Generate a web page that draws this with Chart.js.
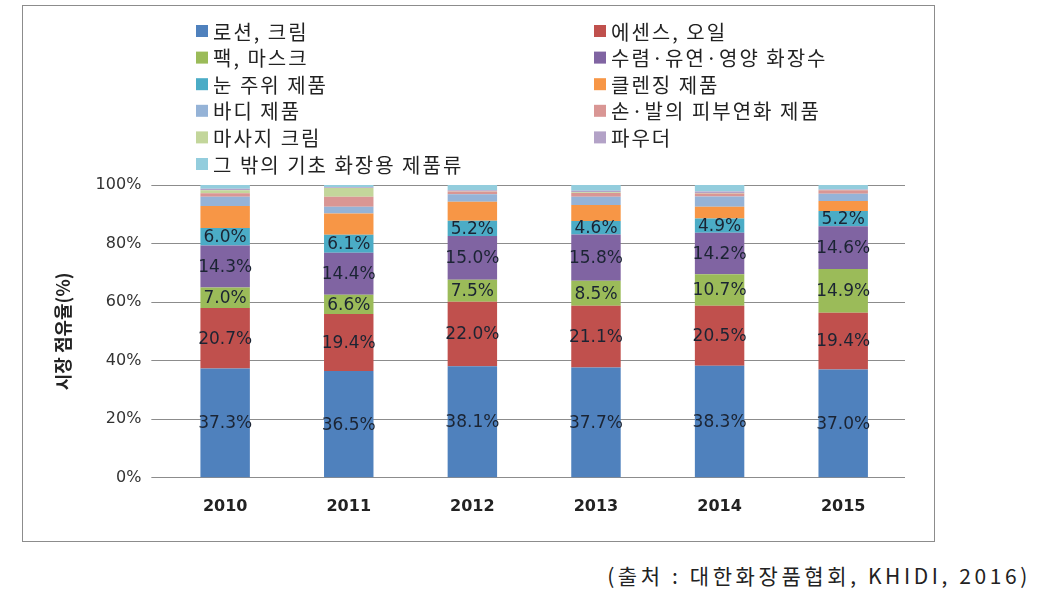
<!DOCTYPE html>
<html>
<head>
<meta charset="utf-8">
<script src="https://cdn.jsdelivr.net/npm/chart.js@4/dist/chart.umd.min.js"></script>
<style>
  html, body { margin: 0; padding: 0; background: #fff; }
  body { width: 1041px; height: 604px; position: relative; overflow: hidden; }
  #frame { position: absolute; left: 22px; top: 5px; width: 911px; height: 535px; border: 1px solid #8c8c8c; }
  #source { position: absolute; right: 10px; top: 560px; font: 21px "Noto Sans CJK KR", sans-serif; color: #222; letter-spacing: 3.6px; }
</style>
</head>
<body>
<div id="frame"><canvas id="myChart" width="911" height="535"></canvas></div>
<div id="source">(출처 : 대한화장품협회, KHIDI, 2016)</div>
<script>
const years = ['2010', '2011', '2012', '2013', '2014', '2015'];

// 시장 점유율 (%)
const lotionCream  = [37.3, 36.5, 38.1, 37.7, 38.3, 37.0];
const essenceOil   = [20.7, 19.4, 22.0, 21.1, 20.5, 19.4];
const packMask     = [7.0, 6.6, 7.5, 8.5, 10.7, 14.9];
const toner        = [14.3, 14.4, 15.0, 15.8, 14.2, 14.6];
const eyeCare      = [6.0, 6.1, 5.2, 4.6, 4.9, 5.2];
const cleansing    = [7.5, 7.3, 6.5, 5.5, 4.0, 3.4];
const bodyCare     = [3.2, 2.3, 2.5, 2.8, 3.5, 2.5];
const handFoot     = [1.2, 3.4, 1.0, 1.3, 1.0, 1.2];
const massageCream = [1.0, 3.0, 0.1, 0.2, 0.2, 0.1];
const powder       = [0.5, 0.2, 0.3, 0.5, 0.5, 0.2];
const otherBasic   = [1.3, 0.8, 1.8, 2.0, 2.2, 1.5];

const seriesNames = ['로션, 크림', '에센스, 오일', '팩, 마스크', '수렴·유연·영양 화장수', '눈 주위 제품',
  '클렌징 제품', '바디 제품', '손·발의 피부연화 제품', '마사지 크림', '파우더', '그 밖의 기초 화장용 제품류'];
const seriesValues = [lotionCream, essenceOil, packMask, toner, eyeCare, cleansing, bodyCare,
  handFoot, massageCream, powder, otherBasic];
const seriesColors = ['#4F81BD', '#C0504D', '#9BBB59', '#8064A2', '#4BACC6', '#F79646',
  '#95B3D7', '#D99694', '#C3D69B', '#B3A2C7', '#93CDDD'];
const labeledSeries = 5; // 아래 5개 계열만 값 표시

// 두 줄 범례 (엑셀 스타일)
const gridLegend = {
  id: 'gridLegend',
  afterDraw(chart) {
    const ctx = chart.ctx;
    ctx.save();
    ctx.font = '20px "Noto Sans CJK KR", sans-serif';
    ctx.letterSpacing = '2px';
    ctx.textBaseline = 'middle';
    chart.data.datasets.forEach((ds, i) => {
      const col = i % 2, row = Math.floor(i / 2);
      const x = col === 0 ? 173 : 571;
      const y = 25 + row * 26.6;
      ctx.fillStyle = ds.backgroundColor;
      ctx.fillRect(x, y - 6, 12, 12);
      ctx.fillStyle = '#222';
      ctx.fillText(ds.label, x + 17, y + 1);
    });
    ctx.restore();
  }
};

// 막대 안 값 표시
const barValues = {
  id: 'barValues',
  afterDatasetsDraw(chart) {
    const ctx = chart.ctx;
    ctx.save();
    ctx.font = '17px "DejaVu Sans", sans-serif';
    ctx.fillStyle = '#1b2433';
    ctx.textAlign = 'center';
    ctx.textBaseline = 'middle';
    for (let d = 0; d < labeledSeries; d++) {
      const meta = chart.getDatasetMeta(d);
      meta.data.forEach((bar, j) => {
        const v = chart.data.datasets[d].data[j];
        ctx.fillText(v.toFixed(1) + '%', bar.x, (bar.y + bar.base) / 2 + 1);
      });
    }
    ctx.restore();
  }
};

const ctx = document.getElementById('myChart').getContext('2d');
new Chart(ctx, {
  type: 'bar',
  data: {
    labels: years,
    datasets: seriesNames.map((name, i) => ({
      label: name,
      data: seriesValues[i],
      backgroundColor: seriesColors[i],
      borderWidth: 0,
      barPercentage: 0.5,
      categoryPercentage: 0.8
    }))
  },
  options: {
    responsive: false,
    animation: false,
    layout: { padding: { top: 179, right: 29, left: 29, bottom: 14 } },
    plugins: {
      legend: { display: false },
      tooltip: { enabled: false }
    },
    scales: {
      x: {
        stacked: true,
        grid: { display: false },
        border: { display: false },
        ticks: { color: '#222', padding: 11, font: { family: 'DejaVu Sans', size: 16, weight: 'bold' } }
      },
      y: {
        stacked: true,
        min: 0,
        max: 100,
        ticks: {
          stepSize: 20,
          color: '#333',
          padding: 10,
          font: { family: 'DejaVu Sans', size: 16 },
          callback: v => v + '%'
        },
        grid: { color: '#8c8c8c', lineWidth: 1, tickLength: 12 },
        border: { display: false },
        title: {
          display: true,
          text: '시장 점유율(%)',
          color: '#222',
          padding: { top: 0, bottom: 12 },
          font: { family: 'Noto Sans CJK KR', size: 18, weight: 'bold' }
        }
      }
    }
  },
  plugins: [gridLegend, barValues]
});
</script>
</body>
</html>
